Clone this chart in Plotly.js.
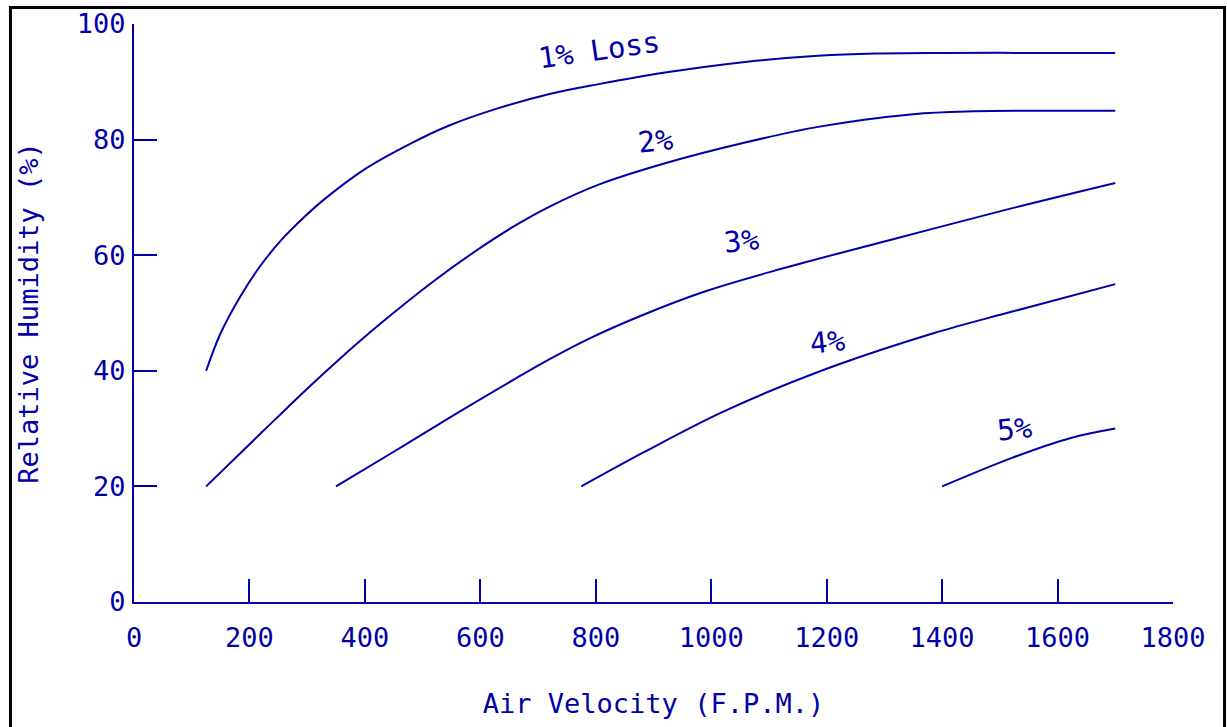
<!DOCTYPE html>
<html>
<head>
<meta charset="utf-8">
<script src="https://cdn.plot.ly/plotly-3.0.1.min.js"></script>
<style>html,body{margin:0;padding:0;background:#fff;}#chart{width:1227px;height:727px;}</style>
</head>
<body>
<div id="chart"></div>
<script>
// Air velocity (F.P.M.) vs relative humidity (%) for each loss curve
const x1 = [125, 150, 185, 220, 255, 295, 330, 400, 475, 545, 630, 720, 805, 920, 1055, 1185, 1285, 1400, 1550, 1700];
const y1 = [40, 46.5, 53, 58.3, 62.6, 66.6, 69.7, 74.9, 79.1, 82.4, 85.4, 87.9, 89.6, 91.6, 93.4, 94.5, 94.9, 95, 95, 95];

const x2 = [125, 225, 300, 350, 425, 515, 590, 655, 720, 805, 920, 1055, 1185, 1350, 1455, 1550, 1700];
const y2 = [20, 29.7, 36.9, 41.5, 48.0, 55.2, 60.6, 64.8, 68.4, 72.2, 75.9, 79.4, 82.2, 84.4, 84.9, 85, 85];

const x3 = [350, 455, 570, 720, 785, 875, 985, 1120, 1320, 1520, 1700];
const y3 = [20, 26.3, 33.3, 42.0, 45.4, 49.4, 53.6, 57.6, 62.9, 68.1, 72.5];

const x4 = [775, 885, 1020, 1185, 1385, 1520, 1700];
const y4 = [20, 26.0, 32.9, 39.8, 46.5, 50.2, 55];

const x5 = [1400, 1520, 1620, 1700];
const y5 = [20, 24.9, 28.3, 30];

const curveLabels = ["1% Loss", "2%", "3%", "4%", "5%"];
const labelX = [806, 903, 1053, 1202, 1526];
const labelY = [95.5, 79.7, 62.4, 44.9, 30.0];
const labelAngle = [-8, -6, -6, -6, -6];

const xTicks = [0, 200, 400, 600, 800, 1000, 1200, 1400, 1600, 1800];
const yTicks = [0, 20, 40, 60, 80, 100];

const BLUE = '#0000AA';
const FONT = 'DejaVu Sans Mono, monospace';

const series = [[x1, y1], [x2, y2], [x3, y3], [x4, y4], [x5, y5]];
const traces = series.map((s, i) => ({
  x: s[0], y: s[1], type: 'scatter', mode: 'lines',
  line: {color: BLUE, width: 2, shape: 'spline', smoothing: 1},
  name: curveLabels[i], hoverinfo: 'x+y'
}));

const annotations = curveLabels.map((t, i) => ({
  x: labelX[i], y: labelY[i], xref: 'x', yref: 'y', text: t,
  showarrow: false, textangle: labelAngle[i],
  font: {family: FONT, size: 29, color: BLUE}
}));

const layout = {
  width: 1227, height: 727,
  margin: {l: 134, r: 54, t: 24, b: 125},
  paper_bgcolor: '#ffffff', plot_bgcolor: '#ffffff',
  showlegend: false,
  font: {family: FONT, color: BLUE},
  xaxis: {
    range: [0, 1800], tickvals: xTicks, ticktext: xTicks.map(String),
    showgrid: false, zeroline: false, showline: true, linecolor: BLUE, linewidth: 2,
    ticks: 'inside', ticklen: 23, tickwidth: 2, tickcolor: BLUE,
    tickfont: {family: FONT, size: 27, color: BLUE},
    ticklabelstandoff: 11,
    title: {text: 'Air Velocity (F.P.M.)', font: {family: FONT, size: 27, color: BLUE}, standoff: 42},
    automargin: false, fixedrange: true
  },
  yaxis: {
    range: [0, 100], tickvals: yTicks, ticktext: yTicks.map(String),
    showgrid: false, zeroline: false, showline: true, linecolor: BLUE, linewidth: 2,
    ticks: 'inside', ticklen: 23, tickwidth: 2, tickcolor: BLUE,
    tickfont: {family: FONT, size: 27, color: BLUE},
    ticklabelstandoff: 1,
    title: {text: 'Relative Humidity (%)', font: {family: FONT, size: 27, color: BLUE}, standoff: 30},
    automargin: false, fixedrange: true
  },
  annotations: annotations,
  shapes: [{
    type: 'rect', xref: 'paper', yref: 'paper',
    x0: -0.1189, x1: 1.0496, y0: -0.3, y1: 1.0286,
    line: {color: '#000000', width: 3}, fillcolor: 'rgba(0,0,0,0)', layer: 'above'
  }]
};

Plotly.newPlot('chart', traces, layout, {displayModeBar: false});
</script>
</body>
</html>
